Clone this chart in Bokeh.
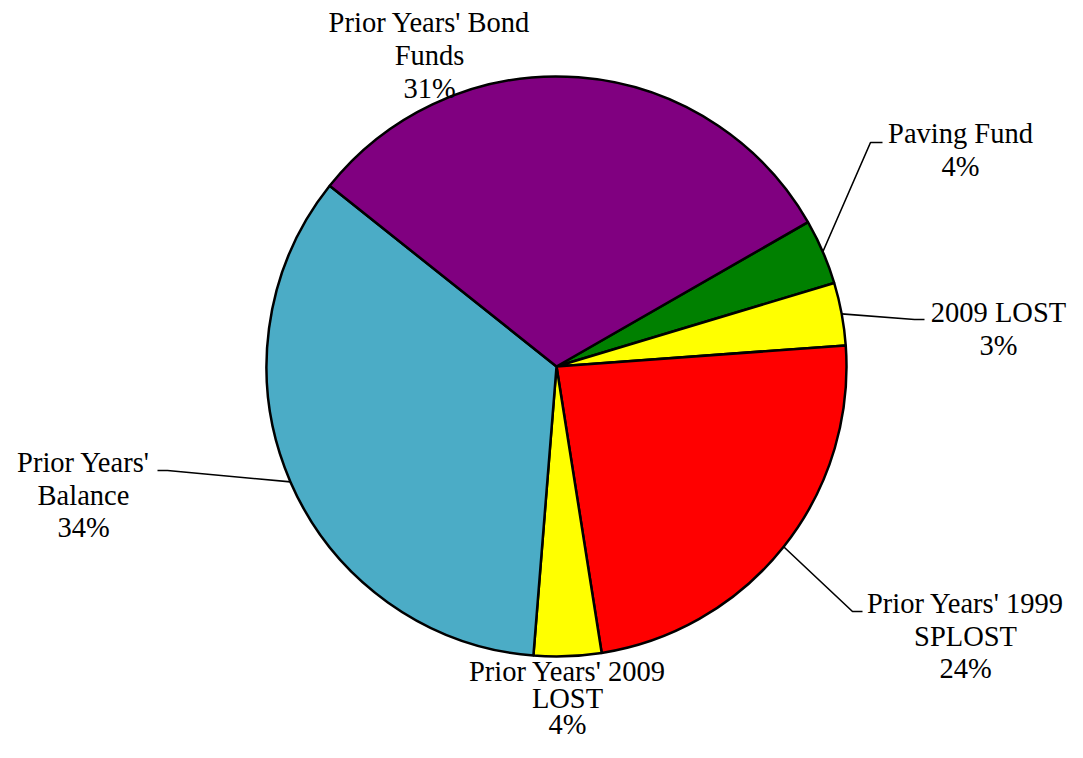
import math
from bokeh.plotting import figure
from bokeh.models import Range1d, ColumnDataSource
from bokeh.core.properties import value
from bokeh.embed import file_html
from bokeh.resources import INLINE

# ---- data (clockwise order, starting from the purple/green boundary) ----
categories = ["Paving Fund", "2009 LOST", "Prior Years' 1999\nSPLOST",
              "Prior Years' 2009\nLOST", "Prior Years'\nBalance",
              "Prior Years' Bond\nFunds"]
shares = [3.65, 3.49, 23.67, 3.76, 34.44, 31.0]
colors = ["#008000", "#FFFF00", "#FF0000", "#FFFF00", "#4BACC6", "#800080"]

# ---- layout (pixels from the figure's top-left corner) ----
W, H = 1067, 742
cx, cy_screen, R = 556, 366, 290
start_deg = 29.87

def sy(y):
    return H - y

label_pos = [(960, 133), (998, 312), (965, 603), (567, 671), (83, 462), (429, 22)]
label_steps = [32.5, 32.5, 32.5, 26.5, 32.5, 33]
leader_elbows = {0: [(870, 142), (882, 142)], 1: [(914, 319), (924, 319)],
                 2: [(852, 611), (862, 611)], 4: [(167, 470), (157, 470)]}

p = figure(width=W, height=H, output_backend="svg", toolbar_location=None,
           x_range=Range1d(0, W), y_range=Range1d(0, H), min_border=0)
p.axis.visible = False
p.grid.visible = False
p.outline_line_color = None
p.background_fill_color = "white"
p.border_fill_color = "white"

total = sum(shares)
starts, ends, mids = [], [], []
a = math.radians(start_deg)
for s in shares:
    da = s / total * 2 * math.pi
    ends.append(a)
    starts.append(a - da)
    mids.append(a - da / 2)
    a -= da

src = ColumnDataSource(dict(start=starts, end=ends, color=colors))
p.wedge(x=cx, y=sy(cy_screen), radius=R, start_angle="start", end_angle="end",
        fill_color="color", line_color="black", line_width=2.5, source=src)

# leader lines
for i, pts in leader_elbows.items():
    m = mids[i]
    x0 = cx + R * math.cos(m)
    y0 = sy(cy_screen) + R * math.sin(m)
    xs = [x0] + [q[0] for q in pts]
    ys = [y0] + [sy(q[1]) for q in pts]
    p.line(xs, ys, line_color="black", line_width=1.6)

# labels
tx, ty, tt = [], [], []
for i, (name, s) in enumerate(zip(categories, shares)):
    lines = name.split("\n") + [f"{round(s / total * 100)}%"]
    lx, ly = label_pos[i]
    for k, ln in enumerate(lines):
        tx.append(lx)
        ty.append(sy(ly + k * label_steps[i]))
        tt.append(ln)

p.text(x=tx, y=ty, text=tt, text_align="center", text_baseline="middle",
       text_font=value("Liberation Serif"), text_font_size="28.5px", text_color="black")

open("out.html", "w").write(file_html(p, INLINE))
